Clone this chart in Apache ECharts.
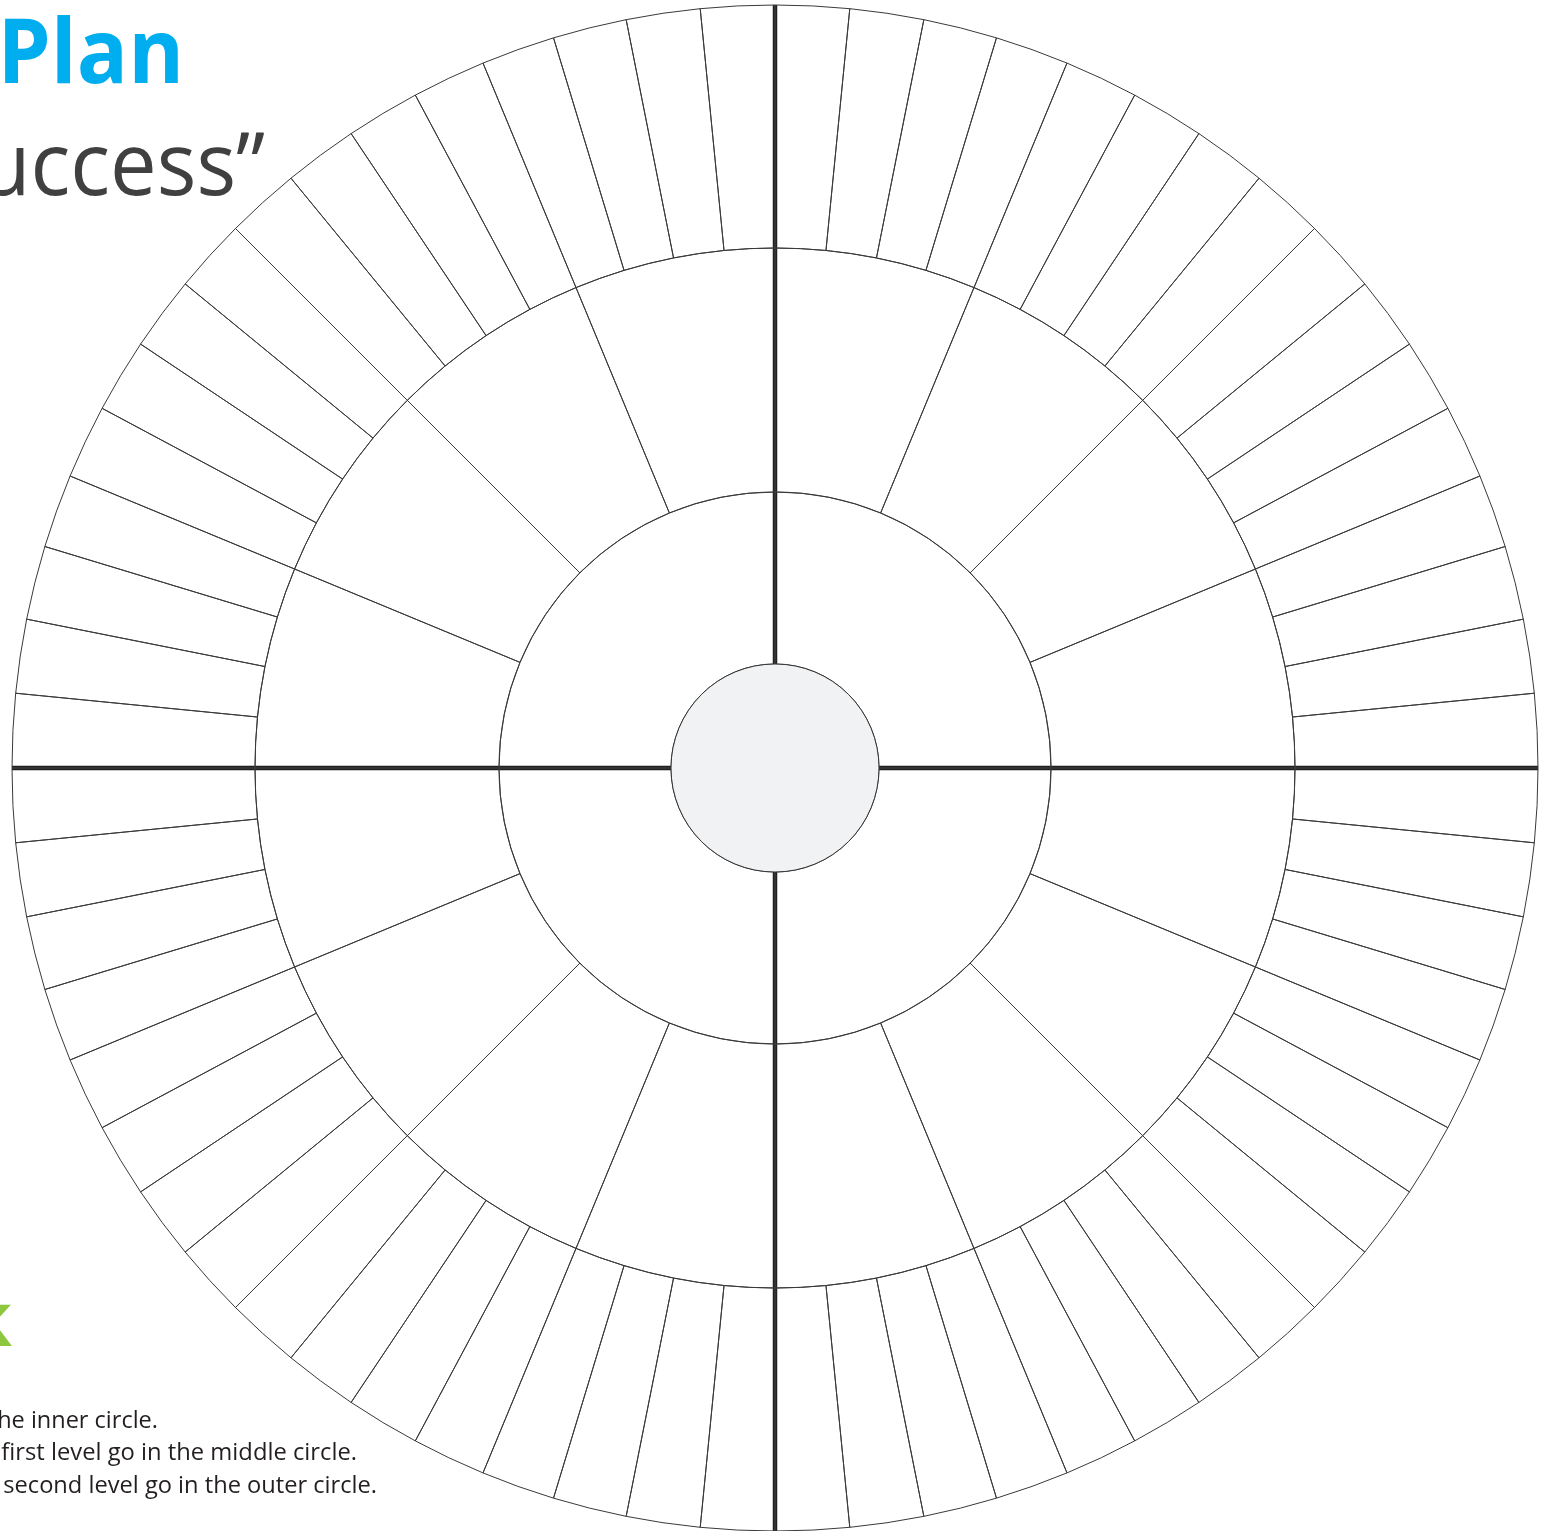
<!DOCTYPE html>
<html>
<head>
<meta charset="utf-8">
<script src="https://cdn.jsdelivr.net/npm/echarts@6/dist/echarts.min.js"></script>
<style>
  html, body { margin: 0; padding: 0; background: #ffffff; }
  #chart { width: 1549px; height: 1531px; }
</style>
</head>
<body>
<div id="chart"></div>
<script>
// ---- data (template: every segment has equal weight) ----
const innerSegments = [1, 1, 1, 1];          // 4 quadrants around the centre circle
const middleSegmentsPerInner = [1, 1, 1, 1]; // each quadrant split in 4 (middle ring)
const outerSegmentsPerMiddle = [1, 1, 1, 1]; // each middle segment split in 4 (outer ring)
const crossAngles = [0, 90, 180, 270];       // thick divider lines
const titleText = 'Plan';
const subtitleText = 'Success\u201D';
const headingText = 'k';
const instructionLines = [
  'the inner circle.',
  'first level go in the middle circle.',
  'second level go in the outer circle.'
];

// build the hierarchy from the small arrays
const treeData = innerSegments.map(function (v, i) {
  return {
    name: 'I' + i,
    children: middleSegmentsPerInner.map(function (m, j) {
      return {
        name: 'M' + i + '-' + j,
        children: outerSegmentsPerMiddle.map(function (o, k) {
          return { name: 'O' + i + '-' + j + '-' + k, value: o * m * v };
        })
      };
    })
  };
});

const CX = 775, CY = 768;
const R_CENTER = 104, R_INNER = 276, R_MIDDLE = 520, R_OUTER = 763;
const lineColor = '#3a3a3a';

const chart = echarts.init(document.getElementById('chart'), null, { renderer: 'canvas' });

chart.setOption({
  backgroundColor: '#ffffff',
  animation: false,
  polar: { center: [CX, CY], radius: R_OUTER },
  angleAxis: {
    type: 'value', min: 0, max: 360, interval: 90, startAngle: 90, clockwise: true,
    axisLine: { show: false }, axisTick: { show: false }, axisLabel: { show: false },
    splitLine: { show: true, lineStyle: { color: '#231f20', width: 4.5 } }
  },
  radiusAxis: {
    type: 'value', min: 0, max: R_OUTER, show: false,
    splitLine: { show: false }
  },
  series: [
    {
      type: 'sunburst',
      center: [CX, CY],
      sort: null,
      nodeClick: false,
      silent: true,
      emphasis: { disabled: true },
      label: { show: false },
      itemStyle: { color: 'rgba(255,255,255,0)', borderColor: lineColor, borderWidth: 1 },
      levels: [
        {},
        { r0: R_CENTER, r: R_INNER },
        { r0: R_INNER, r: R_MIDDLE },
        { r0: R_MIDDLE, r: R_OUTER }
      ],
      data: treeData
    },
    {
      type: 'pie',
      center: [CX, CY],
      radius: [0, R_CENTER],
      silent: true,
      label: { show: false },
      labelLine: { show: false },
      emphasis: { disabled: true },
      itemStyle: { color: '#f1f2f4', borderColor: '#333333', borderWidth: 1 },
      data: [{ value: 1, name: 'centre' }]
    }
  ],
  graphic: [
    {
      type: 'text', x: 184, y: 102, scaleX: 0.955,
      style: {
        text: titleText, textAlign: 'right', textVerticalAlign: 'bottom',
        font: 'bold 89px "Open Sans"', fill: '#00aeef'
      }
    },
    {
      type: 'text', x: 265, y: 214, scaleX: 0.945,
      style: {
        text: subtitleText, textAlign: 'right', textVerticalAlign: 'bottom',
        font: '88px "Open Sans"', fill: '#404041'
      }
    },
    {
      type: 'text', x: 12, y: 1362,
      style: {
        text: headingText, textAlign: 'right', textVerticalAlign: 'bottom',
        font: 'bold 76px "Open Sans"', fill: '#8dc63f'
      }
    },
    {
      type: 'text', x: 158, y: 1433, scaleX: 0.98,
      style: {
        text: instructionLines[0], textAlign: 'right', textVerticalAlign: 'bottom',
        font: '24px "Open Sans"', fill: '#231f20'
      }
    },
    {
      type: 'text', x: 357, y: 1465, scaleX: 0.99,
      style: {
        text: instructionLines[1], textAlign: 'right', textVerticalAlign: 'bottom',
        font: '24px "Open Sans"', fill: '#231f20'
      }
    },
    {
      type: 'text', x: 377, y: 1498, scaleX: 0.985,
      style: {
        text: instructionLines[2], textAlign: 'right', textVerticalAlign: 'bottom',
        font: '24px "Open Sans"', fill: '#231f20'
      }
    }
  ]
});
</script>
</body>
</html>
